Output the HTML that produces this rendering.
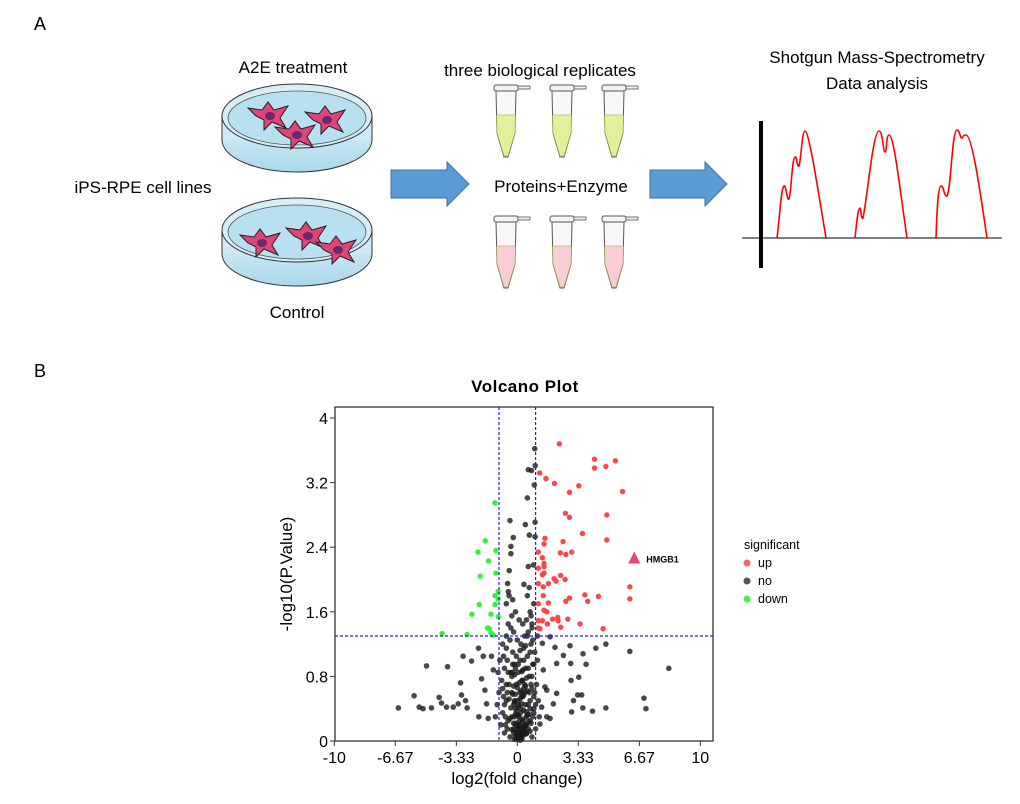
<!DOCTYPE html>
<html><head><meta charset="utf-8"><style>
html,body{margin:0;padding:0;background:#fff;}
svg{display:block;font-family:"Liberation Sans",Arial,sans-serif;}
</style></head><body>
<svg id="fig" width="1020" height="804" viewBox="0 0 1020 804">
<defs>
<linearGradient id="dishG" x1="0" x2="0" y1="0" y2="1"><stop offset="0" stop-color="#e4f4fa"/><stop offset="1" stop-color="#a9d8ea"/></linearGradient>
</defs>
<g>
<text x="34" y="30" font-size="18">A</text>
<text x="293" y="73" font-size="17" text-anchor="middle">A2E treatment</text>
<text x="143" y="193" font-size="17" text-anchor="middle">iPS-RPE cell lines</text>
<text x="297" y="318" font-size="17" text-anchor="middle">Control</text>
<g id="dish1"></g>
<g id="dish2"></g>
<polygon points="391,170 447,170 447,162 469,184 447,206 447,198 391,198" fill="#5b9bd5" stroke="#41719c"/>
<text x="540" y="76" font-size="17" text-anchor="middle">three biological replicates</text>
<text x="561" y="192" font-size="17" text-anchor="middle">Proteins+Enzyme</text>
<g id="tubes"></g>
<polygon points="650,170 705,170 705,162 727,184 705,206 705,198 650,198" fill="#5b9bd5" stroke="#41719c"/>
<text x="877" y="63" font-size="17" text-anchor="middle">Shotgun Mass-Spectrometry</text>
<text x="877" y="89" font-size="17" text-anchor="middle">Data analysis</text>
<line x1="742" y1="238" x2="1002" y2="238" stroke="#333" stroke-width="1.2"/>
<line x1="761" y1="121" x2="761" y2="268" stroke="#000" stroke-width="4"/>
<path d="M777,238 C780,215 781,188 784,186 C786,184 787,201 789,199 C791,196 792,158 795,157 C797,156 797,168 799,166 C801,160 802,131 805,131 C809,131 818,190 826,238" fill="none" stroke="#f00" stroke-width="1.6"/>
<path d="M855,238 C857,220 858,208 860,208 C861,208 861,220 863,218 C867,200 873,131 879,131 C883,131 883,152 885,152 C887,152 886,135 889,135 C894,135 900,190 907,238" fill="none" stroke="#f00" stroke-width="1.6"/>
<path d="M936,238 C937,210 938,186 941,186 C944,186 944,197 947,196 C951,190 952,130 957,130 C960,130 960,139 962,138 C963,137 963,135 966,135 C972,135 980,190 987,238" fill="none" stroke="#f00" stroke-width="1.6"/>
</g>
<g>
<text x="34" y="377" font-size="18">B</text>
<text x="525" y="392" font-size="17" font-weight="bold" text-anchor="middle" letter-spacing="0.5">Volcano Plot</text>
<g id="plot"></g>
<text x="517" y="784" font-size="17" text-anchor="middle">log2(fold change)</text>
<text transform="translate(292,574) rotate(-90)" font-size="17" text-anchor="middle">-log10(P.Value)</text>
<g>
<text x="744" y="549" font-size="12.5">significant</text>
<circle cx="747" cy="563" r="3.5" fill="#f8666a"/>
<text x="758" y="567" font-size="12.5">up</text>
<circle cx="747" cy="581" r="3.5" fill="#555"/>
<text x="758" y="585" font-size="12.5">no</text>
<circle cx="747" cy="599" r="3.5" fill="#4bf04b"/>
<text x="758" y="603" font-size="12.5">down</text>
</g>
</g>
</svg>
<script>
const xTicks=[-10,-6.67,-3.33,0,3.33,6.67,10];
const xTickLabels=["-10","-6.67","-3.33","0","3.33","6.67","10"];
const yTicks=[0,0.8,1.6,2.4,3.2,4];
const yTickLabels=["0","0.8","1.6","2.4","3.2","4"];
const fcThreshold=[-1,1];
const pThreshold=1.3;
const upX=[2.30,4.22,5.36,4.22,4.84,1.22,1.57,2.03,3.36,2.85,5.75,2.63,2.85,4.89,3.56,4.89,1.51,1.46,2.50,1.15,2.35,2.65,2.97,1.37,1.46,1.46,1.15,1.46,1.37,2.37,2.01,2.12,1.70,2.61,1.15,1.42,6.15,1.42,3.69,4.43,2.85,2.65,3.85,6.15,1.15,1.70,1.46,1.61,1.15,1.37,1.93,2.21,2.23,2.76,3.43,1.64,2.37,1.15,1.24,4.69];
const upY=[3.68,3.49,3.47,3.38,3.40,3.32,3.25,3.19,3.16,3.08,3.09,2.82,2.77,2.80,2.57,2.49,2.51,2.44,2.47,2.34,2.33,2.31,2.34,2.27,2.20,2.16,2.14,2.08,2.06,2.05,2.01,1.98,1.95,2.00,1.95,1.91,1.91,1.80,1.81,1.79,1.77,1.73,1.73,1.76,1.70,1.71,1.62,1.60,1.49,1.49,1.51,1.53,1.49,1.51,1.45,1.45,1.41,1.40,1.39,1.39];
const downX=[-1.22,-1.75,-2.15,-1.17,-1.57,-1.17,-2.03,-1.05,-1.22,-1.05,-2.08,-1.22,-2.48,-1.44,-1.04,-1.62,-1.53,-1.44,-1.31,-4.11,-2.74];
const downY=[2.95,2.48,2.34,2.36,2.23,2.08,2.04,1.85,1.80,1.76,1.69,1.69,1.57,1.57,1.54,1.40,1.39,1.34,1.31,1.33,1.32];
const noX=[-6.50,-5.64,-5.36,-5.15,-4.96,-4.69,-4.27,-4.14,-3.87,-3.81,-3.50,-3.23,-3.10,-3.05,-2.96,-2.83,-2.74,-2.50,-2.10,-2.12,-1.95,-1.86,-1.77,-1.68,-1.59,-1.41,-1.31,-0.40,-0.35,-0.22,-0.35,-0.44,-0.53,-0.49,0.55,0.44,0.60,0.66,0.78,0.95,0.98,0.93,0.97,0.97,0.60,0.88,0.36,6.15,4.84,4.29,3.59,3.76,2.88,2.52,2.92,3.36,2.94,3.52,3.30,3.07,2.97,3.58,4.11,4.84,6.92,7.03,8.28,2.15,2.15,1.97,1.79,1.61,1.42,1.51,1.33,1.24,1.61,1.79,2.06,1.37,
-0.9,-0.8,-0.7,-0.6,-0.5,-0.4,-0.3,-0.2,-0.1,0,0.1,0.2,0.3,0.4,0.5,0.6,0.7,0.8,0.9,1.0,
-1.0,-0.85,-0.7,-0.55,-0.45,-0.35,-0.25,-0.15,-0.05,0.05,0.15,0.25,0.35,0.45,0.55,0.65,0.75,0.85,0.95,1.05,
-0.8,-0.6,-0.5,-0.4,-0.3,-0.2,-0.1,0.4,0.5,0.6,0.7,0.8,0.9,-0.6,-0.45,-0.25,0.55,0.65,0.75,0.85,
-0.3,-0.2,-0.1,0,0.1,0.2,0.3,0.4,0.05,0.15,0.25,0.35,-0.05,-0.15,0.5,0.6,0.7,0.45,0.15,0.05,
-1.1,-1.2,1.15,1.2,-0.95,1.1,-0.75,0.8,-0.65,0.9,-0.35,0.3,-0.1,0.2,0,0.1,-0.55,1.0,-1.05,1.1,
0.1,0.2,0.15,0.05,0.25,0.12,0.18,0.3,0.08,0.22,-0.05,0.35,0.4,-0.15,0.28,0.5,0.55,0.62,-0.25,0.7,
-0.4,-0.3,-0.2,-0.1,0,0.1,0.2,0.3,0.4,0.5,0.6,0.7,-0.45,-0.35,-0.25,-0.15,-0.05,0.05,0.15,0.25,0.35,0.45,0.55,0.65,0.75,
-0.3,-0.2,-0.1,0,0.1,0.2,0.3,0.4,0.5,0.6,-0.25,-0.15,-0.05,0.05,0.15,0.25,0.35,0.45,0.55,
-0.2,-0.1,0,0.1,0.2,0.3,0.4,0.5,-0.15,-0.05,0.05,0.15,0.25,0.35,0.45,
-0.6,-0.7,0.8,0.9,-0.5,0.85,-0.65,0.75,-0.55,0.95,-0.75,0.7,-0.8,0.9,-0.6,0.8];
const noY=[0.41,0.56,0.42,0.40,0.93,0.41,0.54,0.47,0.42,0.92,0.42,0.46,0.72,0.57,1.05,0.50,0.41,0.99,0.30,1.15,0.77,1.05,0.63,0.46,0.28,1.05,0.88,2.73,2.41,2.52,2.32,2.11,1.95,1.85,3.01,2.68,3.36,2.55,3.35,3.62,3.41,3.17,2.71,2.53,2.16,2.18,1.94,1.11,1.20,1.15,1.08,0.95,1.18,1.06,0.96,0.79,0.75,0.57,0.57,0.50,0.36,0.41,0.37,0.41,0.53,0.40,0.90,0.96,0.59,0.46,0.28,0.30,0.88,0.67,0.42,0.21,0.63,1.29,1.16,1.21,
0.2,0.35,0.1,0.5,0.25,0.05,0.6,0.15,0.4,0.02,0.3,0.08,0.55,0.2,0.1,0.45,0.25,0.05,0.35,0.15,
0.6,0.75,0.9,1.0,0.7,0.85,1.1,0.95,0.7,0.85,1.0,0.75,1.15,0.9,1.05,0.8,1.2,0.95,1.1,0.7,
1.2,1.3,1.45,1.25,1.55,1.35,1.6,1.3,1.5,1.35,1.6,1.45,1.7,1.7,1.8,1.75,1.8,1.9,1.55,1.25,
0.3,0.45,0.2,0.5,0.12,0.4,0.25,0.6,0.05,0.2,0.02,0.38,0.1,0.3,0.3,0.15,0.5,0.45,0.6,0.32,
0.45,0.3,0.5,0.3,1.0,1.0,0.55,0.65,0.3,0.55,1.4,1.45,0.9,1.2,1.25,1.5,0.15,0.45,0.85,1.3,
0.03,0.06,0.12,0.18,0.09,0.25,0.35,0.15,0.45,0.55,0.22,0.65,0.08,0.5,0.75,0.2,0.62,0.33,0.85,0.12,
0.28,0.14,0.22,0.33,0.07,0.16,0.04,0.27,0.18,0.36,0.24,0.4,0.52,0.41,0.58,0.48,0.36,0.42,0.52,0.46,0.57,0.68,0.32,0.6,0.7,
0.8,0.68,0.58,0.66,0.72,0.62,0.88,0.7,0.78,0.9,0.95,0.82,1.05,0.95,1.12,0.86,1.0,1.18,1.3,
0.1,0.06,0.14,0.2,0.04,0.11,0.16,0.09,0.02,0.03,0.07,0.01,0.05,0.13,0.19,
0.7,0.45,0.8,0.4,0.85,0.3,0.2,0.22,0.6,0.6,1.05,1.1,0.65,0.95,1.15,1.4];
const hmgbX=[6.39], hmgbY=[2.26], hmgbLabel=["HMGB1"];

const NS="http://www.w3.org/2000/svg";
function mk(tag,attrs,parent){const e=document.createElementNS(NS,tag);for(const k in attrs)e.setAttribute(k,attrs[k]);parent.appendChild(e);return e;}
const L=335,R=713,T=407,B=741;
const sx=v=>517.3+v*18.3;
const sy=v=>741-v*80.75;
const plot=document.getElementById('plot');

const gNo=mk('g',{},plot);


for(let i=0;i<noX.length;i++){const c=mk('circle',{cx:sx(noX[i]),cy:sy(noY[i]),r:2.8,fill:'#1a1a1a','fill-opacity':0.8},gNo);

}
const gUp=mk('g',{},plot);


for(let i=0;i<upX.length;i++){const c=mk('circle',{cx:sx(upX[i]),cy:sy(upY[i]),r:2.7,fill:'#f8484c'},gUp);

}
const gDn=mk('g',{},plot);


for(let i=0;i<downX.length;i++){const c=mk('circle',{cx:sx(downX[i]),cy:sy(downY[i]),r:2.7,fill:'#39ee39'},gDn);

}
for(let i=0;i<hmgbX.length;i++){const x=sx(hmgbX[i]),y=sy(hmgbY[i]);
const t=mk('polygon',{points:`${x},${y-7} ${x-6},${y+5} ${x+6},${y+5}`,fill:'#e8457c'},plot);


const lb=mk('text',{x:x+12,y:y+4,'font-size':9,'font-weight':'bold'},plot);lb.textContent=hmgbLabel[i];

}
for(const f of fcThreshold){const l=mk('line',{x1:sx(f),x2:sx(f),y1:T,y2:B,stroke:'#2020ee','stroke-width':1.2,'stroke-dasharray':'3,2'},plot);

}
const hl=mk('line',{x1:L,x2:R,y1:sy(pThreshold),y2:sy(pThreshold),stroke:'#2020ee','stroke-width':1.2,'stroke-dasharray':'3,2'},plot);


const fr=mk('rect',{x:L,y:T,width:R-L,height:B-T,fill:'none',stroke:'#333','stroke-width':1.3},plot);


xTicks.forEach((v,i)=>{const x=sx(v);
const tk=mk('line',{x1:x,x2:x,y1:B,y2:B+5,stroke:'#333'},plot);


const t=mk('text',{x:x,y:B+22,'font-size':16,'text-anchor':'middle'},plot);t.textContent=xTickLabels[i];

});
yTicks.forEach((v,i)=>{const y=sy(v);
const tk=mk('line',{x1:L-5,x2:L,y1:y,y2:y,stroke:'#333'},plot);


const t=mk('text',{x:L-7,y:y+6,'font-size':16,'text-anchor':'end'},plot);t.textContent=yTickLabels[i];

});

function dish(g,cy){
mk('ellipse',{cx:297,cy:cy+18,rx:75,ry:32,fill:'url(#dishG)',stroke:'#333','stroke-width':1},g);
mk('rect',{x:222,y:cy-6,width:150,height:24,fill:'#cfeaf4',stroke:'none'},g);
mk('line',{x1:222,y1:cy-6,x2:222,y2:cy+18,stroke:'#333'},g);
mk('line',{x1:372,y1:cy-6,x2:372,y2:cy+18,stroke:'#333'},g);
mk('ellipse',{cx:297,cy:cy-6,rx:75,ry:32,fill:'#d6eef6',stroke:'#333','stroke-width':1},g);
mk('ellipse',{cx:297,cy:cy-4,rx:69,ry:27,fill:'#b8e0ee',stroke:'#555','stroke-width':0.8},g);
}
function cell(g,x,y){
mk('path',{d:`M${x-14},${y} L${x-22},${y-8} L${x-8},${y-6} L${x-2},${y-14} L${x+4},${y-6} L${x+18},${y-10} L${x+10},${y+2} L${x+16},${y+12} L${x+2},${y+6} L${x-6},${y+14} L${x-6},${y+4} Z`,fill:'#e0457a',stroke:'#222','stroke-width':1},g);
mk('ellipse',{cx:x,cy:y,rx:5,ry:4,fill:'#6a2a6a'},g);
}
const d1=document.getElementById('dish1');dish(d1,122);cell(d1,270,116);cell(d1,297,135);cell(d1,327,120);
const d2=document.getElementById('dish2');dish(d2,236);cell(d2,262,243);cell(d2,308,236);cell(d2,338,250);
const tubes=document.getElementById('tubes');
function tube(x,y,liq){
mk('rect',{x:x-12,y:y,width:24,height:6,rx:2,fill:'#f4f4f4',stroke:'#555'},tubes);
mk('rect',{x:x+12,y:y+1,width:12,height:3,fill:'#eee',stroke:'#555','stroke-width':0.8},tubes);
mk('path',{d:`M${x-10},${y+6} L${x-9},${y+48} L${x-2},${y+72} L${x+2},${y+72} L${x+9},${y+48} L${x+10},${y+6} Z`,fill:'#f7f7f7',stroke:'#555'},tubes);
mk('path',{d:`M${x-9.5},${y+30} L${x-9},${y+48} L${x-2},${y+71} L${x+2},${y+71} L${x+9},${y+48} L${x+9.5},${y+30} Z`,fill:liq,stroke:'#9aa640','stroke-width':0.6},tubes);
}
[506,562,614].forEach(x=>tube(x,85,'#e4ef9a'));
[506,562,614].forEach(x=>tube(x,216,'#f9cdd3'));
</script>
</body></html>
